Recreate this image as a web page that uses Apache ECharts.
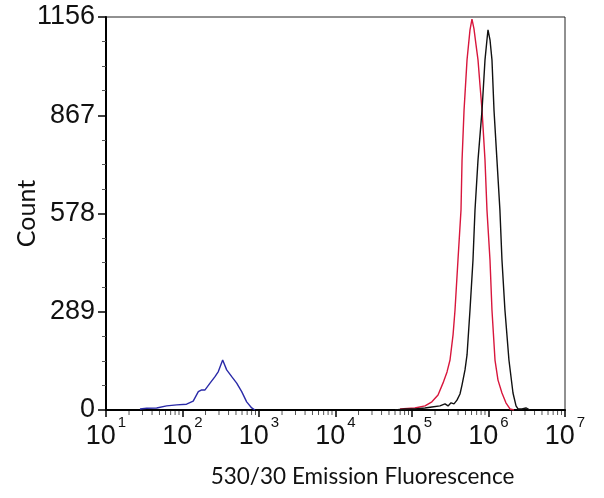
<!DOCTYPE html>
<html>
<head>
<meta charset="utf-8">
<script src="https://cdn.jsdelivr.net/npm/echarts@6/dist/echarts.min.js"></script>
<style>html,body{margin:0;padding:0;background:#fff;}#c{width:604px;height:498px;}</style>
</head>
<body>
<div id="c"></div>
<script>
// ---- data (fluorescence value, count) ----
const blueX = [27.8, 34, 46, 62, 84, 113, 138, 161, 178, 197, 229, 266, 294, 335, 378, 440, 511, 594, 690, 803, 887];
const blueY = [3, 5, 6, 12, 15, 17, 26, 54, 59, 59, 79, 98, 113, 147, 118, 98, 79, 54, 24, 6, 0];

const redX = [6.97e4, 1.09e5, 1.48e5, 1.82e5, 2.19e5, 2.54e5, 2.87e5, 3.14e5, 3.44e5, 3.65e5, 3.99e5, 4.37e5, 4.51e5, 4.79e5, 5.24e5, 5.73e5, 6.08e5, 6.46e5, 6.87e5, 7.29e5, 7.74e5, 8.23e5, 9.0e5, 9.55e5, 1.046e6, 1.11e6, 1.216e6, 1.331e6, 1.50e6, 1.69e6, 1.91e6, 2.15e6];
const redY = [3, 6, 12, 24, 44, 79, 112, 147, 221, 294, 441, 588, 735, 882, 1030, 1118, 1150, 1121, 1074, 1030, 956, 882, 735, 588, 441, 294, 147, 88, 50, 21, 3, 0];

const blackX = [6.0e4, 8.1e4, 1.09e5, 1.48e5, 1.82e5, 2.32e5, 2.70e5, 2.96e5, 3.24e5, 3.54e5, 3.87e5, 4.24e5, 4.51e5, 4.93e5, 5.24e5, 5.73e5, 6.27e5, 6.66e5, 7.29e5, 8.23e5, 9.0e5, 9.55e5, 9.85e5, 1.046e6, 1.11e6, 1.18e6, 1.29e6, 1.41e6, 1.50e6, 1.64e6, 1.85e6, 2.09e6, 2.29e6, 2.43e6, 2.74e6, 3.09e6, 3.48e6];
const blackY = [0, 3, 3, 6, 9, 12, 18, 12, 21, 18, 29, 47, 74, 118, 162, 294, 441, 588, 735, 882, 1030, 1089, 1118, 1089, 1030, 882, 735, 588, 441, 294, 147, 50, 12, 3, 3, 6, 0];

const yTicks = [0, 289, 578, 867, 1156];
const xExponents = [1, 2, 3, 4, 5, 6, 7];
const minorMultipliers = [2, 3, 4, 5, 6, 7, 8, 9];

const zip = (xs, ys) => xs.map((x, i) => [x, ys[i]]);
const minorTicks = [];
xExponents.slice(0, -1).forEach(e => minorMultipliers.forEach(m => minorTicks.push([m * Math.pow(10, e)])));

const SANS = "Arial, 'Liberation Sans', sans-serif";

const chart = echarts.init(document.getElementById('c'));
chart.setOption({
  animation: false,
  backgroundColor: '#fff',
  grid: { left: 106, right: 39, top: 17, bottom: 88, show: true, borderColor: '#222', borderWidth: 1, containLabel: false, outerBoundsMode: 'none' },
  xAxis: {
    type: 'log', logBase: 10, min: 10, max: 1e7,
    name: '530/30 Emission Fluorescence', nameLocation: 'middle', nameGap: 55, nameMoveOverlap: false,
    nameTextStyle: { fontFamily: 'Lato', fontSize: 22.5, color: '#111', padding: [0, 0, 0, 54] },
    axisLine: { show: true, onZero: false, lineStyle: { color: '#000', width: 2 } },
    axisTick: { show: true, inside: false, length: 7, lineStyle: { color: '#000', width: 1.5 } },
    splitLine: { show: false },
    axisLabel: {
      margin: 5, color: '#111',
      formatter: v => '{b|10}{s|' + Math.round(Math.log10(v)) + '}',
      rich: {
        b: { fontFamily: SANS, fontSize: 27, lineHeight: 44, verticalAlign: 'middle', color: '#111' },
        s: { fontFamily: SANS, fontSize: 15, lineHeight: 15, verticalAlign: 'top', padding: [0, 0, 0, 2], color: '#111' }
      }
    }
  },
  yAxis: {
    type: 'value', min: 0, max: 1156, interval: 289,
    name: 'Count', nameLocation: 'middle', nameGap: 67, nameMoveOverlap: false,
    nameTextStyle: { fontFamily: 'Lato', fontSize: 25, color: '#111' },
    axisLine: { show: true, lineStyle: { color: '#000', width: 2 } },
    axisTick: { show: true, inside: false, length: 8, lineStyle: { color: '#000', width: 1.5 } },
    minorTick: { show: true, splitNumber: 4, length: 4, lineStyle: { color: '#555', width: 1 } },
    splitLine: { show: false },
    axisLabel: {
      margin: 11, color: '#111', fontFamily: SANS, fontSize: 27,
      formatter: v => yTicks.includes(v) ? String(v) : ''
    }
  },
  series: [
    {
      type: 'custom', silent: true, clip: false, z: 1,
      data: minorTicks,
      renderItem: (params, api) => {
        const p = api.coord([api.value(0), 0]);
        return { type: 'line', shape: { x1: p[0], y1: p[1] + 1, x2: p[0], y2: p[1] + 5 }, style: { stroke: '#555', lineWidth: 1 } };
      }
    },
    { type: 'line', data: zip(blueX, blueY), showSymbol: false, lineStyle: { color: '#2a2aa8', width: 1.4 }, z: 3 },
    { type: 'line', data: zip(redX, redY), showSymbol: false, lineStyle: { color: '#d8163c', width: 1.4 }, z: 3 },
    { type: 'line', data: zip(blackX, blackY), showSymbol: false, lineStyle: { color: '#111', width: 1.4 }, z: 4 }
  ]
});
</script>
</body>
</html>
